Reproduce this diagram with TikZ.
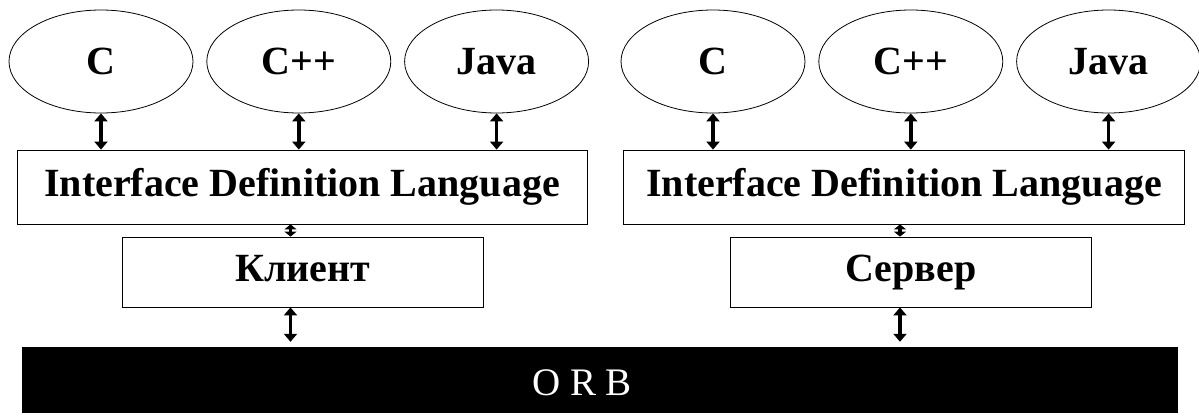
\documentclass[tikz,border=0pt]{standalone}
\usepackage{fontspec}
\setmainfont{Liberation Serif}
\usetikzlibrary{arrows.meta,positioning,shapes.geometric}

\begin{document}
\begin{tikzpicture}[x=1pt, y=-1pt, node distance=13pt,
  lang/.style={ellipse, draw, line width=0.8pt, minimum width=184pt,
               minimum height=103pt, inner sep=0pt, font=\fontsize{40}{46}\selectfont\bfseries},
  idl/.style={draw, line width=0.8pt, minimum width=570pt, minimum height=74pt,
              inner sep=0pt, font=\fontsize{40}{46}\selectfont\bfseries},
  side/.style={draw, line width=0.8pt, minimum width=361pt, minimum height=70pt,
               inner sep=0pt, text height=27pt, text depth=9pt,
               font=\fontsize{40}{46}\selectfont\bfseries},
  dbl/.style={{Triangle[length=8pt,width=13pt]}-{Triangle[length=8pt,width=13pt]},
              line width=3.6pt}]
  \useasboundingbox (0,0) rectangle (1199,415);
  % client side
  \node[lang] (cL) at (101,61.5) {C};
  \node[lang, right=of cL] (cppL) {C++};
  \node[lang, right=of cppL] (javaL) {Java};
  \node[idl] (idlL) at (302,187) {Interface Definition Language};
  \node[side] (client) at (302.5,272) {Клиент};
  % server side
  \node[lang] (cR) at (713,61.5) {C};
  \node[lang, right=of cR] (cppR) {C++};
  \node[lang, right=of cppR] (javaR) {Java};
  \node[idl, minimum width=561pt] (idlR) at (904,187) {Interface Definition Language};
  \node[side] (server) at (911,272) {Сервер};
  % bus
  \node[fill=black, minimum width=1156pt, minimum height=66pt, inner sep=0pt] (orb) at (600,380) {};
  \node[text=white, font=\fontsize{39}{44}\selectfont] (orbt) at (582,383) {O R B};
  % arrows
  \foreach \n/\b in {cL/idlL, cppL/idlL, javaL/idlL, cR/idlR, cppR/idlR, javaR/idlR}
    \draw[dbl] (\n.south) -- (\n.south |- \b.north);
  \draw[dbl, {Triangle[length=5pt,width=12pt]}-{Triangle[length=5pt,width=12pt]}]
    ([xshift=-12pt]client.north) -- ([xshift=-12pt]client.north |- idlL.south);
  \draw[dbl, {Triangle[length=5pt,width=12pt]}-{Triangle[length=5pt,width=12pt]}]
    ([xshift=-11pt]server.north) -- ([xshift=-11pt]server.north |- idlR.south);
  \draw[dbl] ([xshift=-12pt]client.south) -- ([xshift=-12pt,yshift=5pt]client.south |- orb.north);
  \draw[dbl] ([xshift=-11pt]server.south) -- ([xshift=-11pt,yshift=5pt]server.south |- orb.north);
\end{tikzpicture}
\end{document}
